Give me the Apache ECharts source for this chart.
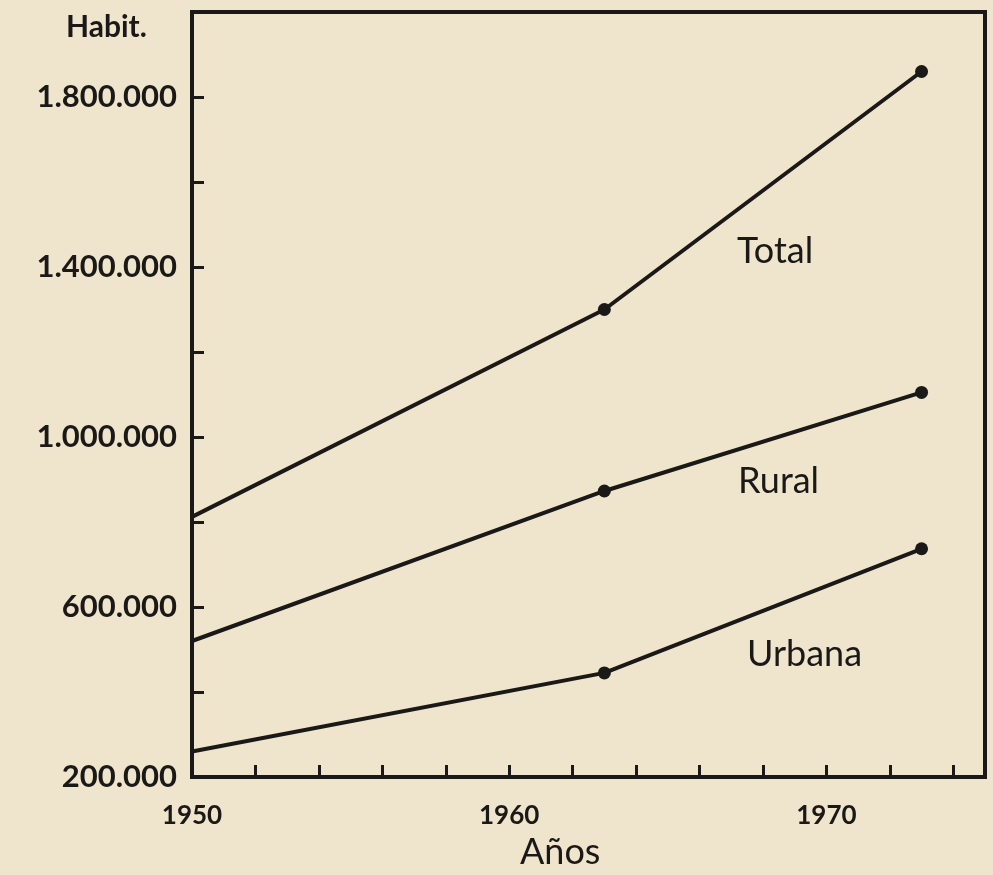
<!DOCTYPE html>
<html>
<head>
<meta charset="utf-8">
<script src="https://cdn.jsdelivr.net/npm/echarts@6/dist/echarts.min.js"></script>
<style>
  html, body { margin: 0; padding: 0; background: #efe5cd; }
  #main { width: 993px; height: 875px; }
</style>
</head>
<body>
<div id="main"></div>
<script>
// años de censo y población (habitantes)
var years = [1950, 1963, 1973];
var total = [812000, 1300000, 1860000];
var rural = [520000, 873000, 1105000];
var urbana = [260000, 445000, 737000];

var yLabels = [200000, 600000, 1000000, 1400000, 1800000];
var xLabels = [1950, 1960, 1970];

var ink = '#1b1917';
var font = 'Lato, "Noto Sans", sans-serif';

function puntos(vals) {
    var out = [];
    for (var i = 0; i < years.length; i++) {
        // el primer punto va sobre el eje, sin marcador
        if (i == 0) {
            out.push({ value: [years[i], vals[i]], symbol: 'none' });
        } else {
            out.push({ value: [years[i], vals[i]] });
        }
    }
    return out;
}

function miles(v) {
    return String(v).replace(/\B(?=(\d{3})+(?!\d))/g, '.');
}

function serie(nombre, vals) {
    return {
        name: nombre,
        type: 'line',
        data: puntos(vals),
        symbol: 'circle',
        symbolSize: 13,
        lineStyle: { color: ink, width: 4 },
        itemStyle: { color: ink },
        silent: true
    };
}

function etiqueta(txt, x, y, size) {
    return {
        type: 'text', x: x, y: y,
        style: { text: txt, font: size + 'px ' + font, fill: ink, verticalAlign: 'middle' }
    };
}

var myChart = echarts.init(document.getElementById('main'));

var option = {
    backgroundColor: '#efe5cd',
    animation: false,
    grid: {
        left: 192, right: 8, top: 12, bottom: 98,
        show: true,
        borderColor: ink,
        borderWidth: 4
    },
    xAxis: {
        type: 'value',
        min: 1950,
        max: 1975,
        interval: 2,
        axisLine: { lineStyle: { color: ink, width: 4 } },
        axisTick: { inside: true, length: 12, lineStyle: { color: ink, width: 3 } },
        splitLine: { show: false },
        axisLabel: {
            margin: 26,
            color: ink,
            fontFamily: font,
            fontWeight: 'bold',
            fontSize: 26,
            formatter: function (v) {
                return xLabels.indexOf(v) >= 0 ? String(v) : '';
            }
        }
    },
    yAxis: {
        type: 'value',
        min: 200000,
        max: 2000000,
        interval: 200000,
        axisLine: { lineStyle: { color: ink, width: 4 } },
        axisTick: { inside: true, length: 12, lineStyle: { color: ink, width: 3 } },
        splitLine: { show: false },
        axisLabel: {
            margin: 15,
            color: ink,
            fontFamily: font,
            fontWeight: 'bold',
            fontSize: 31,
            formatter: function (v) {
                return yLabels.indexOf(v) >= 0 ? miles(v) : '';
            }
        }
    },
    graphic: [
        { type: 'text', x: 66, y: 27, style: { text: 'Habit.', font: 'bold 30px ' + font, fill: ink, verticalAlign: 'middle' } },
        etiqueta('Años', 520, 852, 36),
        etiqueta('Total', 737, 251, 36),
        etiqueta('Rural', 738, 481, 36),
        etiqueta('Urbana', 747, 654, 36)
    ],
    series: [
        serie('Total', total),
        serie('Rural', rural),
        serie('Urbana', urbana)
    ]
};

myChart.setOption(option);
</script>
</body>
</html>
